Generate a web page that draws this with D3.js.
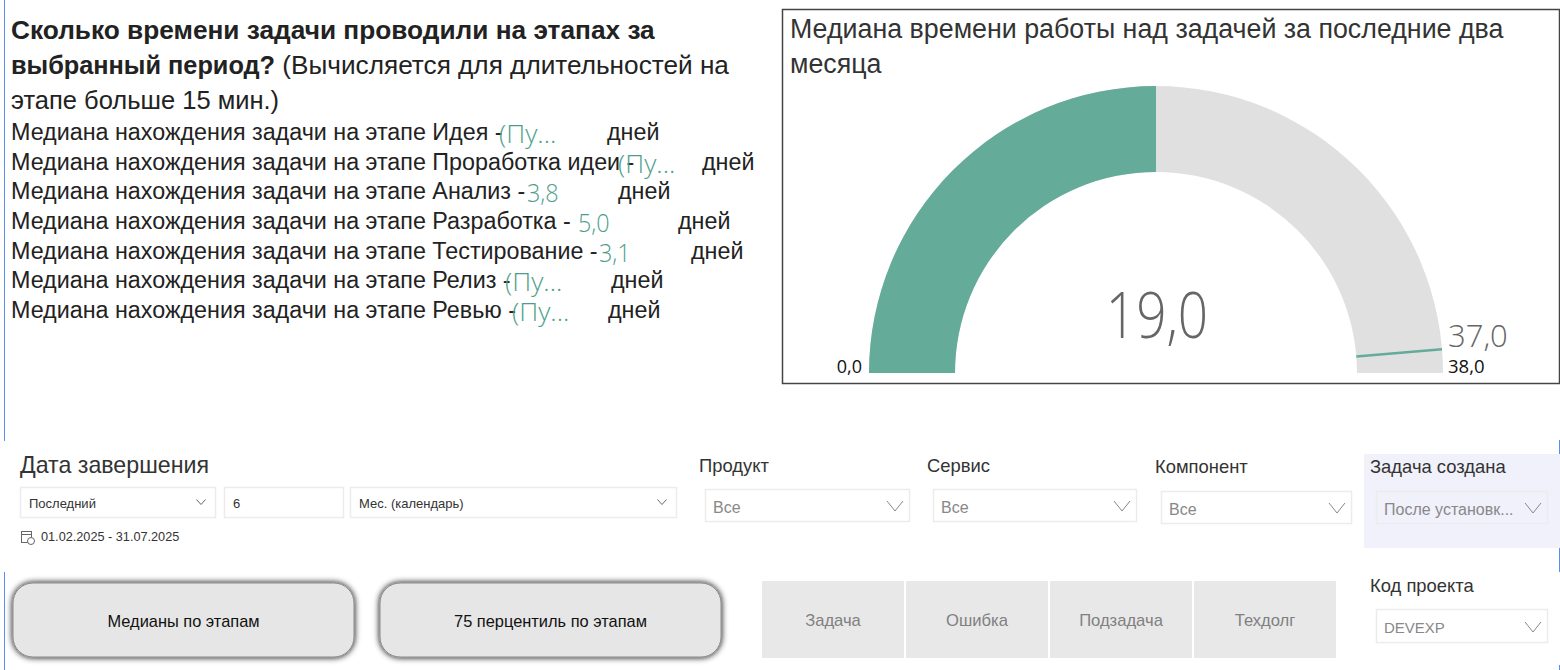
<!DOCTYPE html>
<html>
<head>
<meta charset="utf-8">
<script src="https://cdn.jsdelivr.net/npm/d3@7/dist/d3.min.js"></script>
<style>
  html, body { margin: 0; padding: 0; background: #fff; }
  text { font-family: "Liberation Sans", Arial, sans-serif; }
  .light { font-family: "Open Sans", "Noto Sans", sans-serif; font-weight: 300; }
  .open { font-family: "Open Sans", "Noto Sans", sans-serif; }
</style>
</head>
<body>
<div id="chart"></div>
<script>
// gauge values
const gaugeValue = 19.0;
const gaugeTarget = 37.0;
const gaugeMin = 0;
const gaugeMax = 38.0;
const gaugeTitle = ["Медиана времени работы над задачей за последние два", "месяца"];

// stage medians (text cards)
const stageNames = ["Идея", "Проработка идеи", "Анализ", "Разработка", "Тестирование", "Релиз", "Ревью"];
const stageValues = ["(Пу...", "(Пу...", "3,8", "5,0", "3,1", "(Пу...", "(Пу..."];

// slicers and buttons
const filterLabels = ["Продукт", "Сервис", "Компонент", "Задача создана"];
const filterValues = ["Все", "Все", "Все", "После установк..."];
const dateParts = ["Последний", "6", "Мес. (календарь)"];
const dateRange = "01.02.2025 - 31.07.2025";
const bigButtons = ["Медианы по этапам", "75 перцентиль по этапам"];
const typeButtons = ["Задача", "Ошибка", "Подзадача", "Техдолг"];

const green = "#4f9e8b";
const width = 1560, height = 670;

const svg = d3.select("#chart").append("svg")
  .attr("width", width)
  .attr("height", height)
  .style("display", "block");

const defs = svg.append("defs");
const shadow = defs.append("filter").attr("id", "btnShadow")
  .attr("x", "-5%").attr("y", "-15%").attr("width", "110%").attr("height", "130%");
shadow.append("feGaussianBlur").attr("in", "SourceAlpha").attr("stdDeviation", 3);
const merge = shadow.append("feMerge");
merge.append("feMergeNode");
merge.append("feMergeNode").attr("in", "SourceGraphic");

// blue edge lines left over from the page
const edge = "#5b8def";
[[4.5, 0, 441], [4.5, 572, 670], [1559.5, 440, 572], [1559.5, 665, 670]].forEach(([x, y1, y2]) => {
  svg.append("line").attr("x1", x).attr("x2", x).attr("y1", y1).attr("y2", y2)
    .attr("stroke", edge).attr("stroke-width", 1);
});

// ---------- left text block
const head = svg.append("g").attr("fill", "#222");
head.append("text").attr("x", 11).attr("y", 39)
  .attr("font-size", 26.25).attr("font-weight", "bold")
  .text("Сколько времени задачи проводили на этапах за");
const line2 = head.append("text").attr("x", 11).attr("y", 74);
line2.append("tspan").attr("font-size", 25.3).attr("font-weight", "bold").text("выбранный период?");
line2.append("tspan").attr("font-size", 26.2).text(" (Вычисляется для длительностей на");
head.append("text").attr("x", 11).attr("y", 109).attr("font-size", 25.5)
  .text("этапе больше 15 мин.)");

const rowY = d3.scalePoint().domain(stageNames).range([140, 318]);
const valueX = [499, 618, 527, 578, 599, 505, 512];
const unitX = [607, 702, 618, 678, 691, 611, 608];
const rows = svg.append("g").selectAll("g").data(stageNames).join("g");
rows.append("text")
  .attr("x", 11).attr("y", d => rowY(d))
  .attr("font-size", 23.3).attr("fill", "#222")
  .text(d => `Медиана нахождения задачи на этапе ${d} -`);
rows.append("text")
  .attr("class", "light")
  .attr("transform", (d, i) => {
    const sx = /\d/.test(stageValues[i]) ? 0.9 : 1.02;
    return `translate(${valueX[i]},${rowY(d) + 3}) scale(${sx},1)`;
  })
  .attr("font-size", 26).attr("fill", green)
  .text((d, i) => stageValues[i]);
rows.append("text")
  .attr("x", (d, i) => unitX[i]).attr("y", d => rowY(d))
  .attr("font-size", 23.3).attr("fill", "#222")
  .text("дней");

// ---------- gauge card
svg.append("rect")
  .attr("x", 782.5).attr("y", 9.5).attr("width", 777).attr("height", 374)
  .attr("fill", "#fff").attr("stroke", "#444").attr("stroke-width", 1.5);
svg.append("g").selectAll("text").data(gaugeTitle).join("text")
  .attr("x", 790).attr("y", (d, i) => 38 + i * 35)
  .attr("font-size", 26.8).attr("fill", "#333")
  .text(d => d);

const cx = 1156, cy = 373, outerR = 287, innerR = 201;
const angle = d3.scaleLinear().domain([gaugeMin, gaugeMax]).range([-Math.PI / 2, Math.PI / 2]);
const arc = d3.arc().innerRadius(innerR).outerRadius(outerR);
const gauge = svg.append("g").attr("transform", `translate(${cx},${cy})`);

gauge.append("path")
  .attr("d", arc({ startAngle: angle(gaugeMin), endAngle: angle(gaugeMax) }))
  .attr("fill", "#e0e0e0");
gauge.append("path")
  .attr("d", arc({ startAngle: angle(gaugeMin), endAngle: angle(gaugeValue) }))
  .attr("fill", "#64ab99");

// target tick
const targetA = angle(gaugeTarget);
gauge.append("line")
  .attr("x1", innerR * Math.sin(targetA)).attr("y1", -innerR * Math.cos(targetA))
  .attr("x2", outerR * Math.sin(targetA)).attr("y2", -outerR * Math.cos(targetA))
  .attr("stroke", "#64ab99").attr("stroke-width", 2.5);

const fmt = v => v.toFixed(1).replace(".", ",");
svg.append("text").attr("class", "light")
  .attr("transform", "translate(1157,338) scale(0.83,1)").attr("text-anchor", "middle")
  .attr("font-size", 64).attr("fill", "#666")
  .text(fmt(gaugeValue));
svg.append("text").attr("class", "light")
  .attr("x", 1448).attr("y", 347)
  .attr("font-size", 31).attr("fill", "#666")
  .text(fmt(gaugeTarget));
svg.append("text").attr("class", "open").attr("x", 862).attr("y", 373).attr("text-anchor", "end")
  .attr("font-size", 18).attr("fill", "#111").text(fmt(gaugeMin));
svg.append("text").attr("class", "open").attr("x", 1448).attr("y", 373)
  .attr("font-size", 18.5).attr("fill", "#111").text(fmt(gaugeMax));

// ---------- slicers
function chevron(parent, x, y, w, h, color) {
  const line = d3.line();
  parent.append("path")
    .attr("d", line([[x - w / 2, y - h / 2], [x, y + h / 2], [x + w / 2, y - h / 2]]))
    .attr("fill", "none").attr("stroke", color).attr("stroke-width", 1);
}

function box(parent, x, y, w, h, fill) {
  parent.append("rect")
    .attr("x", x + 0.5).attr("y", y + 0.5).attr("width", w).attr("height", h)
    .attr("fill", fill || "#fff").attr("stroke", "#ececec").attr("stroke-width", 1.5);
}

const slicers = svg.append("g");
slicers.append("text").attr("x", 20).attr("y", 473)
  .attr("font-size", 23.2).attr("fill", "#333").text("Дата завершения");

const dateBoxX = [20, 224, 350];
const dateBoxW = [195, 119, 326];
dateParts.forEach((d, i) => {
  box(slicers, dateBoxX[i], 487, dateBoxW[i], 30);
  slicers.append("text").attr("x", dateBoxX[i] + 9).attr("y", 508)
    .attr("font-size", 13).attr("fill", "#333").text(d);
  if (i !== 1) chevron(slicers, dateBoxX[i] + dateBoxW[i] - 14, 502, 9, 5, "#666");
});

// small calendar icon
const cal = slicers.append("g").attr("fill", "none").attr("stroke", "#666").attr("stroke-width", 1);
cal.append("rect").attr("x", 21.5).attr("y", 531.5).attr("width", 10).attr("height", 11);
cal.append("line").attr("x1", 21.5).attr("x2", 31.5).attr("y1", 534.5).attr("y2", 534.5);
cal.append("circle").attr("cx", 31).attr("cy", 541).attr("r", 3.5).attr("fill", "#fff");
slicers.append("text").attr("x", 41).attr("y", 541)
  .attr("font-size", 12.7).attr("fill", "#333").text(dateRange);

slicers.append("rect").attr("x", 1364).attr("y", 454).attr("width", 196).attr("height", 94)
  .attr("fill", "#f1f1fb");

const filterLabelX = [699, 927, 1155, 1370];
const filterLabelY = [472, 472, 473, 473];
const filterBoxX = [705, 933, 1161, 1376];
const filterBoxY = [489, 489, 491, 491];
const filterBoxW = [204, 203, 190, 171];
filterLabels.forEach((d, i) => {
  slicers.append("text").attr("x", filterLabelX[i]).attr("y", filterLabelY[i])
    .attr("font-size", 18.4).attr("fill", "#333").text(d);
  box(slicers, filterBoxX[i], filterBoxY[i], filterBoxW[i], 32, i === 3 ? "#f1f1fb" : "#fff");
  slicers.append("text").attr("x", filterBoxX[i] + 8).attr("y", filterBoxY[i] + 24)
    .attr("font-size", 16).attr("fill", "#888").text(filterValues[i]);
  chevron(slicers, filterBoxX[i] + filterBoxW[i] - 14, filterBoxY[i] + 17, 16, 10, "#888");
});

slicers.append("text").attr("x", 1370).attr("y", 592)
  .attr("font-size", 18.4).attr("fill", "#333").text("Код проекта");
box(slicers, 1376, 609, 171, 33);
slicers.append("text").attr("x", 1384).attr("y", 633)
  .attr("font-size", 15).attr("fill", "#888").text("DEVEXP");
chevron(slicers, 1533, 627, 16, 10, "#888");

// ---------- buttons
const bigX = [13, 380];
const btn = svg.append("g").selectAll("g").data(bigButtons).join("g");
btn.append("rect")
  .attr("x", (d, i) => bigX[i]).attr("y", 583).attr("width", 341).attr("height", 74).attr("rx", 20)
  .attr("fill", "#e6e6e6").attr("stroke", "#8a8a8a").attr("stroke-width", 1)
  .attr("filter", "url(#btnShadow)");
btn.append("text")
  .attr("x", (d, i) => bigX[i] + 170.5).attr("y", 627).attr("text-anchor", "middle")
  .attr("font-size", 16.4).attr("fill", "#111").text(d => d);

const typeX = d3.scaleBand().domain(typeButtons).range([762, 1336]).paddingInner(0.014);
const types = svg.append("g").selectAll("g").data(typeButtons).join("g");
types.append("rect")
  .attr("x", d => typeX(d)).attr("y", 581).attr("width", typeX.bandwidth()).attr("height", 77)
  .attr("fill", "#e8e8e8");
types.append("text")
  .attr("x", d => typeX(d) + typeX.bandwidth() / 2).attr("y", 626).attr("text-anchor", "middle")
  .attr("font-size", 16.6).attr("fill", "#808080").text(d => d);
</script>
</body>
</html>
